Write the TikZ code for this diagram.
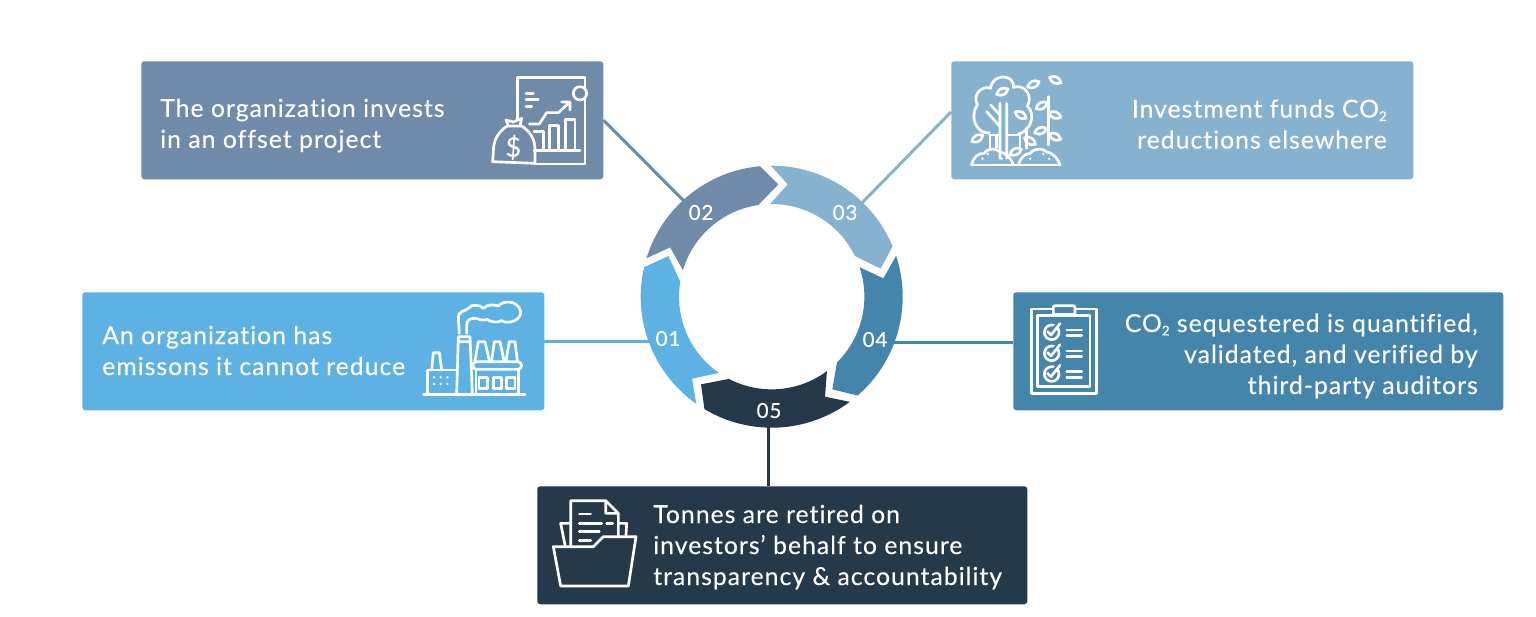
\documentclass[tikz,border=0pt]{standalone}
\usepackage{fontspec}
\setmainfont[LetterSpace=4.0,FakeBold=0.12,Ligatures=NoCommon]{Lato}
\definecolor{cA}{HTML}{5EB2E3}
\definecolor{cB}{HTML}{6F8BA9}
\definecolor{cC}{HTML}{87B2CF}
\definecolor{cD}{HTML}{4685AB}
\definecolor{cE}{HTML}{26394A}
\newcommand{\subtwo}{\smash{\raisebox{-2.6pt}{\fontsize{10}{10}\selectfont 2}}}
\tikzset{
  infobox/.style={rounded corners=2.25pt,inner sep=0pt,minimum height=88.5pt,text=white},
  wide/.style={minimum width=346.5pt},
  wider/.style={minimum width=367.5pt},
  txt/.style={text=white,inner sep=0pt,font=\fontsize{18.6}{23.25}\selectfont},
  num/.style={text=white,inner sep=0pt,font=\fontsize{15.5}{17}\selectfont},
  link/.style={line width=2.25pt},
  icon/.style={draw=white,line width=2pt,line join=round,line cap=round},
  zoomed/.style={x=.25pt,y=-.25pt},
}
\begin{document}
\begin{tikzpicture}[x=.75pt,y=-.75pt]
\useasboundingbox (0,0) rectangle (1536,617);
\fill[white] (0,0) rectangle (1536,617);
% boxes
\node[infobox,wide,fill=cB,anchor=north west] (b2) at (141,61) {};
\node[infobox,wide,fill=cC,anchor=north west] (b3) at (951,61) {};
\node[infobox,wide,fill=cA,anchor=north west] (b1) at (82,292) {};
\node[infobox,wider,fill=cD,anchor=north west] (b4) at (1013,292) {};
\node[infobox,wider,fill=cE,anchor=north west] (b5) at (537,486) {};
% connectors
\coordinate (r1) at (655,341);
\coordinate (r2) at (690,207);
\coordinate (r3) at (858,207);
\coordinate (r4) at (890,342);
\coordinate (r5) at (768,425);
\coordinate (s3) at (951,112);
\coordinate (s1) at (544,341);
\coordinate (s4) at (1013,342);
\coordinate (s5) at (768,486);
\draw[link,cB] (b2.east) -- (r2);
\draw[link,cC] (s3) -- (r3);
\draw[link,cA] (s1) -- (r1);
\draw[link,cD] (s4) -- (r4);
\draw[link,cE] (r5) -- (s5);
% ring
\begin{scope}[shift={(771.7,296.7)},x=.25pt,y=.25pt]
\fill[cB] (162.95:393) arc[start angle=162.95,end angle=95.1,radius=393] -- (20,337) -- (98.3:278) arc[start angle=98.3,end angle=163.3,radius=278] -- (-305,148) -- cycle;
\fill[cC] (90.4:393) arc[start angle=90.4,end angle=22.6,radius=393] -- (327,84) -- (26:278) arc[start angle=26,end angle=91,radius=278] -- (48,337) -- cycle;
\fill[cD] (18.2:393) arc[start angle=18.2,end angle=-49,radius=393] -- (182,-278) -- (-45.3:278) arc[start angle=-45.3,end angle=18.6,radius=278] -- (335,55) -- cycle;
\fill[cE] (-53.4:393) arc[start angle=-53.4,end angle=-120.9,radius=393] -- (-212,-263) -- (-117.5:278) arc[start angle=-117.5,end angle=-53.4,radius=278] -- (160,-300) -- cycle;
\fill[cA] (234.8:393) arc[start angle=234.8,end angle=167,radius=393] -- (-310,122) -- (170.6:278) arc[start angle=170.6,end angle=235.3,radius=278] -- (-239,-246) -- cycle;
\end{scope}
% numbers
\node[num] (n1) at (668,338.5) {01};
\node[num] (n2) at (701,212.5) {02};
\node[num] (n3) at (845,212.5) {03};
\node[num] (n4) at (875,339.5) {04};
\node[num] (n5) at (769,410.5) {05};
% texts
\node[txt,anchor=west,align=left] (t2) at (160,125.5) {The organization invests\\in an offset project};
\node[txt,anchor=east,align=right] (t3) at (1387,124) {Investment funds CO\subtwo\\reductions elsewhere};
\node[txt,anchor=west,align=left] (t1) at (102,350.5) {An organization has\\emissons it cannot reduce};
\node[txt,anchor=east,align=right] (t4) at (1478,356) {CO\subtwo{} sequestered is quantified,\\validated, and verified by\\third-party auditors};
\node[txt,anchor=west,align=left] (t5) at (653,547) {Tonnes are retired on\\investors’ behalf to ensure\\transparency \& accountability};
% icon 02
\begin{scope}[shift={(410,60)},zoomed]
\draw[icon] (322,180)--(322,52)--(525,52)--(525,82);
\draw[icon] (525,118)--(525,312)--(375,312);
\draw[icon] (510,100) circle (20);
\draw[icon] (348,100)--(370,100) (348,118)--(385,118) (348,140)--(365,140);
\draw[icon] (358,192)--(388,192)--(410,158)--(445,158)--(478,128) (455,126)--(480,126)--(480,150);
\draw[icon] (372,215)--(400,215)--(400,270) (418,270)--(418,197)--(445,197)--(445,270) (466,270)--(466,178)--(495,178)--(495,270) (372,272)--(510,272);
\draw[icon] (292,198) .. controls (265,215) and (250,240) .. (250,275) -- (248,305) -- (375,310) -- (375,270) .. controls (375,235) and (360,215) .. (335,198) -- cycle;
\draw[icon] (295,197) -- (288,180) -- (310,186) -- (335,175) -- (330,197);
\node[text=white,inner sep=0pt,font=\fontsize{20}{20}\selectfont] (dollar) at (310,262) {\$};
\end{scope}
% icon 03
\begin{scope}[shift={(950,60)},zoomed]
\draw[icon] (118,218) .. controls (85,225) and (55,175) .. (82,135) .. controls (65,100) and (100,75) .. (122,85) .. controls (125,40) and (195,40) .. (190,82) .. controls (225,70) and (250,110) .. (232,138) .. controls (260,165) and (240,215) .. (205,222);
\draw[icon] (150,130)--(150,295) (170,130)--(170,295) (122,135)--(150,165) (110,155)--(150,200);
\draw[icon] (120,225)--(120,268) (140,225)--(140,262) (210,225)--(210,265) (230,205)--(230,265);
\draw[icon] (295,110)--(295,255) (150,225)--(118,225) (170,225)--(210,225);
\foreach \p/\u/\a in {157/95/25,212/165/-30,250/73/25,316/60/-25,275/137/30,315/165/-20,272/212/20,315/230/-25,240/243/-30,82/235/30,197/275/25}{
  \begin{scope}[shift={(\p,\u)},rotate=\a]
  \draw[icon] (-19,0) .. controls (-8,-13) and (8,-13) .. (19,0) .. controls (8,13) and (-8,13) .. (-19,0) -- cycle;
  \end{scope}
}
\draw[icon] (65,315)--(330,315);
\draw[icon] (65,315) .. controls (70,290) and (85,280) .. (102,280) .. controls (115,262) and (140,265) .. (150,276) .. controls (172,280) and (185,298) .. (190,315);
\draw[icon] (205,315) .. controls (210,295) and (225,280) .. (240,280) .. controls (255,262) and (280,265) .. (290,276) .. controls (312,280) and (325,298) .. (330,315);
\foreach \p/\u in {97/296,113/282,155/296,240/296,280/282,297/296}{\fill[white] (\p,\u) circle (4);}
\end{scope}
% icon 01
\begin{scope}[shift={(400,290)},zoomed]
\draw[icon] (70,313)--(375,313);
\draw[icon] (82,313)--(82,240)--(170,240);
\draw[icon] (95,240)--(100,188)--(118,188)--(125,240);
\foreach \p in {102,122,142}{\foreach \u in {262,282}{\fill[white] (\p,\u) circle (4);}}
\draw[icon] (170,313)--(175,140)--(210,140)--(217,313) (175,155)--(210,155);
\draw[icon,rounded corners=3pt] (218,215) rectangle (365,238);
\draw[icon] (228,238)--(228,313) (355,238)--(355,313);
\draw[icon] (237,262) rectangle (262,295) (280,262) rectangle (305,295) (320,262) rectangle (345,295);
\draw[icon] (225,212)--(235,155)--(255,155)--(268,212) (275,212)--(283,155)--(300,155)--(312,212) (318,212)--(328,155)--(345,155)--(352,212);
\draw[icon] (178,130)--(175,85) .. controls (175,60) and (195,65) .. (205,55) .. controls (215,40) and (240,45) .. (250,55) .. controls (265,40) and (285,45) .. (295,48) .. controls (310,30) and (355,30) .. (362,65) .. controls (365,90) and (325,105) .. (305,92) .. controls (290,100) and (270,95) .. (262,88) .. controls (245,95) and (235,85) .. (225,85) .. controls (210,85) and (200,90) .. (200,105) -- (200,130);
\end{scope}
% icon 04
\begin{scope}[shift={(1015,295)},zoomed]
\draw[icon,line cap=butt] (115,42)--(50,42)--(50,295)--(245,295)--(245,42)--(180,42);
\draw[icon] (68,62) rectangle (225,275);
\draw[icon,fill=cD,rounded corners=1pt] (115,32) rectangle (180,58);
\foreach \u in {112,175,237}{
  \draw[icon] (110,\u) circle (22);
  \draw[icon,draw=cD,line width=3pt] (108,\u-2)--(135,\u-30);
  \draw[icon] (98,\u-2)--(108,\u+8)--(135,\u-26);
  \draw[icon] (155,\u-7)--(200,\u-7) (155,\u+10)--(200,\u+10);
}
\end{scope}
% icon 05
\begin{scope}[shift={(540,490)},zoomed]
\draw[icon] (92,165)--(92,32)--(197,32)--(235,70)--(235,140) (197,32)--(197,70)--(235,70);
\draw[icon] (118,72)--(152,72) (118,100)--(185,100) (200,100)--(218,100) (118,125)--(178,125) (118,152)--(152,152);
\draw[icon] (75,165)--(62,100)--(92,100) (235,100)--(260,100)--(258,135);
\draw[icon] (40,170)--(160,170)--(190,140)--(288,140)--(265,288)--(62,288)--cycle;
\end{scope}
\end{tikzpicture}
\end{document}
